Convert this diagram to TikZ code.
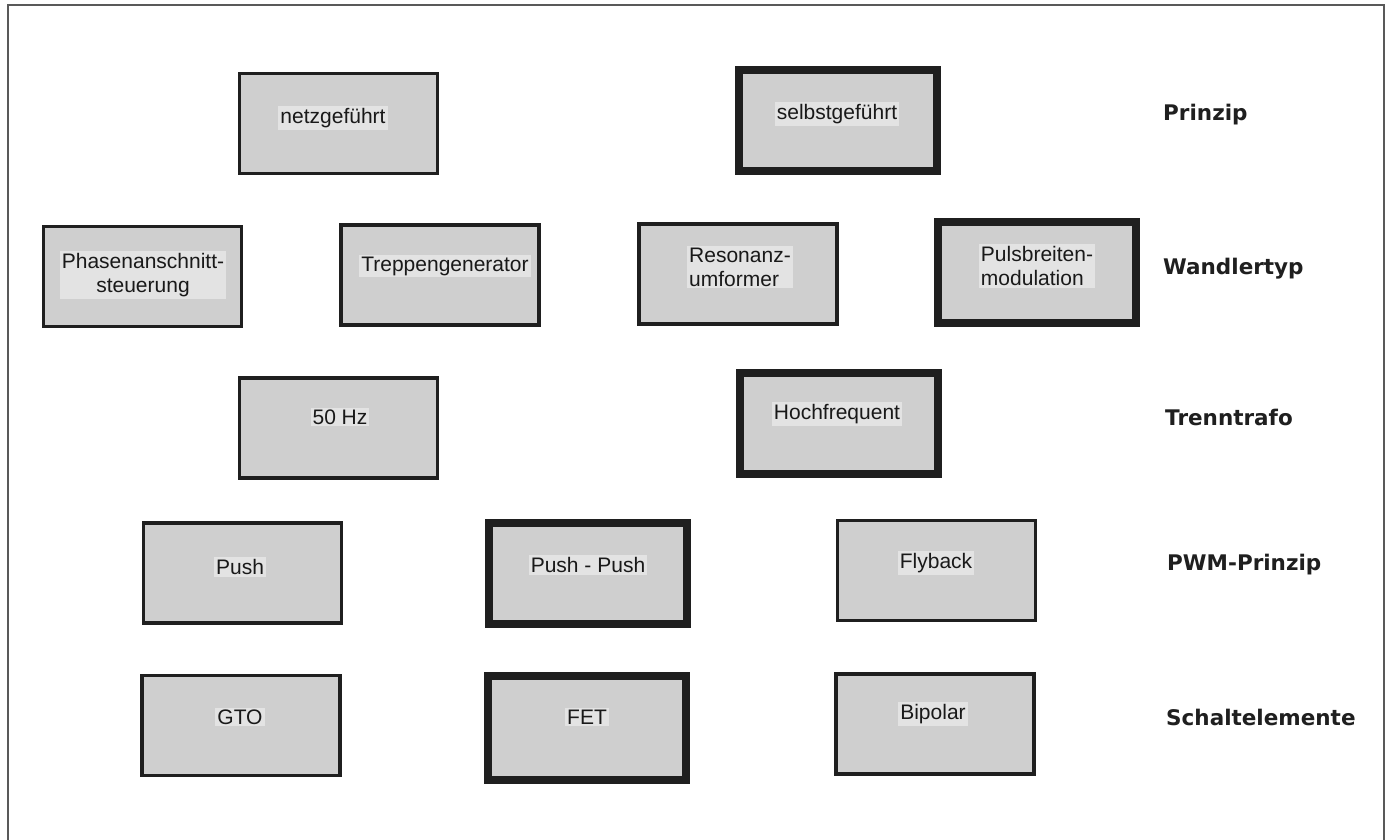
\documentclass[tikz,border=0pt]{standalone}
\usepackage{fontspec}
\setmainfont{Liberation Sans}
\newfontfamily\labfont{DejaVu Sans}
\begin{document}
\begin{tikzpicture}[x=1pt,y=-1pt,
  thinbox/.style={draw=black!88, fill=black!19, line width=3.7pt, minimum width=198pt, minimum height=100pt, inner sep=0pt},
  thickbox/.style={draw=black!88, fill=black!19, line width=8pt, minimum width=198pt, minimum height=101pt, inner sep=0pt},
  boxtext/.style={fill=black!11, inner sep=2pt, text=black!90, font=\fontsize{21}{24}\selectfont, align=center},
  boxtextl/.style={boxtext, align=left},
  rowlabel/.style={anchor=west, inner sep=0pt, text=black!88, font=\labfont\bfseries\fontsize{21.5}{24}\selectfont},
  frame/.style={draw=black!65, line width=2pt}]
\useasboundingbox (0,0) rectangle (1386,839);
\fill[white] (0,0) rectangle (1386,839);
\coordinate (fbl) at (8,850);
\coordinate (ftl) at (8,5);
\coordinate (ftr) at (1384,5);
\coordinate (fbr) at (1384,850);
\draw[frame] (fbl) -- (ftl) -- (ftr) -- (fbr);

% row 1: Prinzip
\node[thinbox] (netz) at (338.5,123.5) {};
\node[boxtext] (netzT) at (333,118) {netzgeführt};
\node[thickbox] (selbst) at (837.5,120) {};
\node[boxtext] (selbstT) at (837,114) {selbstgeführt};
\node[rowlabel] (prinzip) at (1163,115) {Prinzip};

% row 2: Wandlertyp
\node[thinbox] (phasen) at (142.5,276.5) {};
\node[boxtext] (phasenT) at (143,275) {Phasenanschnitt-\\steuerung};
\node[thinbox] (trepp) at (440,275) {};
\node[boxtext] (treppT) at (445,266) {Treppengenerator};
\node[thinbox] (reson) at (738,274) {};
\node[boxtextl] (resonT) at (740,267) {Resonanz-\\umformer};
\node[thickbox] (puls) at (1036.5,272) {};
\node[boxtextl] (pulsT) at (1037,266) {Pulsbreiten-\\modulation};
\node[rowlabel] (wandler) at (1163,269) {Wandlertyp};

% row 3: Trenntrafo
\node[thinbox] (hz) at (338.5,428) {};
\node[boxtext] (hzT) at (340,417) {50 Hz};
\node[thickbox] (hoch) at (839,423.5) {};
\node[boxtext] (hochT) at (837,414) {Hochfrequent};
\node[rowlabel] (trenn) at (1165,417) {Trenntrafo};

% row 4: PWM-Prinzip
\node[thinbox] (push) at (242.5,573) {};
\node[boxtext] (pushT) at (240,567) {Push};
\node[thickbox] (pp) at (587.5,573.5) {};
\node[boxtext] (ppT) at (588,565) {Push - Push};
\node[thinbox] (fly) at (936.5,570.5) {};
\node[boxtext] (flyT) at (936,563) {Flyback};
\node[rowlabel] (pwm) at (1167,565) {PWM-Prinzip};

% row 5: Schaltelemente
\node[thinbox] (gto) at (241,725.5) {};
\node[boxtext] (gtoT) at (240,717) {GTO};
\node[thickbox, minimum height=104pt] (fet) at (586.5,728) {};
\node[boxtext] (fetT) at (587,717) {FET};
\node[thinbox] (bip) at (935,724) {};
\node[boxtext] (bipT) at (933,714) {Bipolar};
\node[rowlabel] (schalt) at (1166,717) {Schaltelemente};
\end{tikzpicture}
\end{document}
